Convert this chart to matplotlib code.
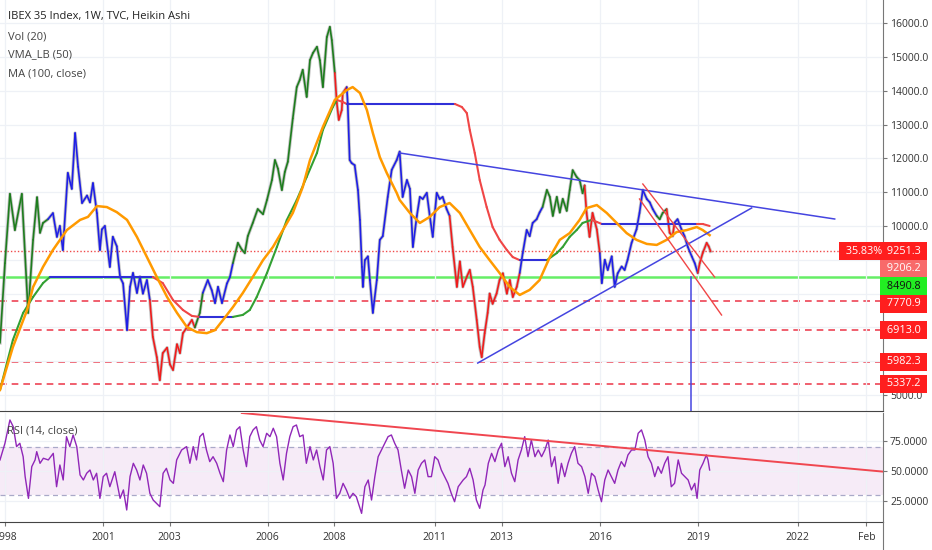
import numpy as np
import matplotlib.pyplot as plt
from matplotlib.collections import LineCollection
from matplotlib.transforms import blended_transform_factory
from matplotlib.lines import Line2D

plt.rcParams['font.family'] = ['Open Sans', 'DejaVu Sans']

# Heikin Ashi weekly close (decimal year, price, trend colour)
price_t = [1997.89, 1998.04, 1998.19, 1998.34, 1998.55, 1998.74, 1998.89, 1999.01, 1999.10, 1999.19,
           1999.34, 1999.49, 1999.61, 1999.70, 1999.79, 1999.94, 2000.06, 2000.16, 2000.25, 2000.37,
           2000.52, 2000.61, 2000.70, 2000.82, 2000.91, 2000.97, 2001.06, 2001.21, 2001.30, 2001.42,
           2001.52, 2001.61, 2001.73, 2001.82, 2001.91, 2002.03, 2002.12, 2002.21, 2002.33, 2002.42,
           2002.51, 2002.63, 2002.72, 2002.81, 2002.94, 2003.03, 2003.12, 2003.24, 2003.33, 2003.42,
           2003.54, 2003.69, 2003.78, 2003.93, 2004.02, 2004.17, 2004.29, 2004.39, 2004.48, 2004.60,
           2004.75, 2004.84, 2004.93, 2005.08, 2005.20, 2005.29, 2005.38, 2005.53, 2005.68, 2005.84,
           2005.96, 2006.11, 2006.20, 2006.29, 2006.41, 2006.50, 2006.59, 2006.74, 2006.86, 2006.95,
           2007.04, 2007.16, 2007.26, 2007.35, 2007.47, 2007.56, 2007.65, 2007.77, 2007.86, 2007.92,
           2008.01, 2008.07, 2008.13, 2008.22, 2008.25, 2008.37, 2008.40, 2008.46, 2008.52, 2008.61,
           2008.71, 2008.77, 2008.83, 2008.86, 2008.92, 2009.01, 2009.07, 2009.16, 2009.28, 2009.37,
           2009.46, 2009.61, 2009.73, 2009.88, 2009.97, 2010.06, 2010.19, 2010.28, 2010.37, 2010.49,
           2010.58, 2010.67, 2010.79, 2010.88, 2010.97, 2011.09, 2011.18, 2011.27, 2011.39, 2011.48,
           2011.57, 2011.70, 2011.79, 2011.88, 2012.00, 2012.09, 2012.18, 2012.30, 2012.39, 2012.45,
           2012.54, 2012.63, 2012.69, 2012.78, 2012.90, 2012.99, 2013.09, 2013.21, 2013.30, 2013.39,
           2013.51, 2013.60, 2013.69, 2013.81, 2013.90, 2013.99, 2014.11, 2014.20, 2014.29, 2014.42,
           2014.51, 2014.60, 2014.72, 2014.81, 2014.90, 2015.02, 2015.11, 2015.20, 2015.32, 2015.41,
           2015.50, 2015.56, 2015.62, 2015.71, 2015.80, 2015.93, 2016.02, 2016.08, 2016.17, 2016.26,
           2016.38, 2016.47, 2016.56, 2016.68, 2016.77, 2016.86, 2016.98, 2017.13, 2017.22, 2017.32,
           2017.44, 2017.53, 2017.62, 2017.74, 2017.83, 2017.92, 2018.04, 2018.13, 2018.22, 2018.28,
           2018.37, 2018.49, 2018.58, 2018.68, 2018.80, 2018.89, 2018.98, 2019.04, 2019.13, 2019.25,
           2019.31, 2019.37]
price_v = [6540, 8900, 10950, 9880, 10950, 7430, 9590, 10850, 9800, 10090,
           10200, 10380, 9680, 10000, 9290, 11570, 11100, 12750, 11750, 10680,
           10900, 10700, 11270, 10380, 9290, 9900, 10000, 8790, 9680, 9400,
           8490, 8300, 6920, 8200, 8610, 8020, 8500, 8000, 8400, 7810,
           6720, 6120, 5440, 6240, 6400, 5900, 5740, 6500, 6240, 6830,
           7000, 7220, 7000, 7430, 8020, 8400, 8100, 7720, 8200, 7720,
           8300, 8490, 8900, 9500, 9300, 9200, 9700, 10090, 10500, 10350,
           10770, 11360, 11950, 11700, 11065, 11600, 11900, 13180, 14110, 14320,
           14620, 13820, 14910, 15120, 15300, 14900, 14110, 15590, 15890, 15500,
           14530, 13640, 13140, 13430, 13930, 14110, 13640, 11950, 11860, 11800,
           11065, 10180, 8790, 8200, 8990, 9100, 8400, 7430, 8400, 9590,
           9700, 10860, 11660, 11950, 12200, 10860, 11360, 11100, 9380, 10300,
           10860, 10800, 10980, 10300, 9680, 10980, 10800, 10860, 10500, 10300,
           9380, 8200, 8950, 8200, 8500, 8700, 8200, 7220, 6420, 6120,
           6830, 7430, 8000, 7700, 8000, 8400, 8600, 8000, 8400, 7900,
           8200, 8610, 9200, 9880, 9700, 10090, 10200, 10400, 10560, 11065,
           10860, 10300, 10860, 10400, 10800, 10450, 11065, 11650, 11450, 11360,
           10970, 11200, 10385, 9680, 10385, 9900, 9200, 8310, 9000, 8700,
           9100, 8200, 8600, 8800, 8700, 9000, 9500, 9900, 10385, 11065,
           10800, 10700, 10500, 10300, 10200, 10385, 10500, 9800, 9700, 10100,
           10200, 9900, 9700, 9380, 9100, 8900, 8610, 8900, 9200, 9500,
           9400, 9250]
price_trend = ("GGGGGGGGGG" "GBBBBBBBBB" "BBBBBBBBBB" "BBBBBBBBBB" "RRRRRRRRRR"
               "RRRGGBBBBB" "BBBGGGGGGG" "GGGGGGGGGG" "GGGGGGGGGG" "GRRRRRBBBB"
               "BBBBBBBBBB" "BBBBBBBBBB" "BBBBBBBBBB" "RRRRRRRRRR" "RRRRRRRRRR"
               "RRBBBBBBBG" "GGGGGGGGGG" "GGRRRRRBBB" "BBBBBBBBBB" "BBBBGGGRRR"
               "BBBBBBBRRR" "RR")

# MA (100, close)
ma_t = [1997.89, 1998.28, 1998.71, 1998.89, 1999.19, 1999.49, 1999.91, 2000.31, 2000.55, 2000.82,
        2001.12, 2001.42, 2001.73, 2002.03, 2002.33, 2002.63, 2002.94, 2003.24, 2003.54, 2003.84,
        2004.14, 2004.39, 2004.63, 2004.93, 2005.23, 2005.53, 2005.84, 2006.14, 2006.44, 2006.74,
        2007.04, 2007.26, 2007.65, 2008.01, 2008.37, 2008.55, 2008.77, 2008.98, 2009.16, 2009.37,
        2009.58, 2009.88, 2009.97, 2010.28, 2010.58, 2010.88, 2011.18, 2011.48, 2011.79, 2012.09,
        2012.39, 2012.69, 2012.99, 2013.30, 2013.60, 2013.90, 2014.20, 2014.51, 2014.81, 2015.11,
        2015.41, 2015.62, 2015.93, 2016.23, 2016.53, 2016.83, 2017.13, 2017.44, 2017.74, 2018.04,
        2018.34, 2018.65, 2018.95, 2019.13, 2019.34]
ma_v = [5150, 6420, 7515, 8195, 8790, 9290, 9880, 10180, 10270, 10590,
        10560, 10410, 10180, 9675, 9083, 8490, 7900, 7430, 7010, 6860,
        6830, 6920, 7220, 7600, 8020, 8490, 8990, 9380, 9880, 10385,
        11150, 11950, 12930, 13730, 14020, 14110, 13935, 13430, 12750, 12040,
        11570, 10980, 10770, 10385, 10090, 10270, 10560, 10680, 10385, 9880,
        9380, 8990, 8610, 8195, 7960, 8110, 8400, 9080, 9590, 9790,
        10180, 10530, 10620, 10385, 10090, 9790, 9590, 9470, 9440, 9590,
        9820, 9880, 9970, 9880, 9730]

# VMA_LB (50)
vma_t = [1997.89, 1998.28, 1998.59, 1998.89, 1999.19, 1999.40, 2002.51, 2002.81, 2003.12, 2003.42,
         2003.69, 2003.93, 2004.93, 2005.23, 2005.44, 2005.65, 2005.96, 2006.26, 2006.56, 2006.86,
         2007.16, 2007.47, 2007.65, 2007.95, 2008.07, 2008.25, 2008.37, 2011.64, 2011.85, 2012.00,
         2012.09, 2012.24, 2012.39, 2012.60, 2012.78, 2012.99, 2013.21, 2013.39, 2013.60, 2014.42,
         2014.72, 2014.90, 2015.11, 2015.32, 2015.50, 2015.77, 2015.93, 2016.08, 2018.95, 2019.13,
         2019.34]
vma_v = [5150, 6630, 7430, 7900, 8310, 8490, 8490, 8310, 7810, 7515,
         7340, 7310, 7310, 7370, 7515, 7900, 8610, 9380, 10180, 10770,
         11450, 12160, 12840, 13520, 13730, 13670, 13610, 13610, 13520, 13340,
         12840, 12160, 11360, 10560, 9970, 9590, 9290, 9080, 8990, 8990,
         9200, 9380, 9680, 9880, 10090, 10180, 10120, 10060, 10060, 10060,
         10000]
vma_trend = ("GGGGGGBRRR" "RRBGGGGGGG" "GGGGGRRBRR" "RRRRRRRRRB" "GGGGGGRRBR" "R")

# horizontal levels
resist_levels = [7770.9, 6913.0, 5982.3, 5337.2]
support_level = 8490.8
last_close = 9251.3
ha_close = 9206.2
change_pct = '35.83%'

# drawn trend lines (start / end anchors)
tri_top_t = [2009.97, 2023.12]
tri_top_v = [12160, 10207]
tri_low_t = [2012.33, 2020.61]
tri_low_v = [5946, 10533]
chan_up_t = [2017.32, 2019.49]
chan_up_v = [11243, 8491]
chan_dn_t = [2017.22, 2019.70]
chan_dn_v = [10799, 7367]
drop_t = 2018.77
drop_top = 8490.8

# RSI (14, close)
rsi_t = [1997.89, 1998.04, 1998.19, 1998.29, 1998.39, 1998.49, 1998.59, 1998.65, 1998.75, 1998.85,
         1998.95, 1999.00, 1999.10, 1999.20, 1999.35, 1999.50, 1999.60, 1999.70, 1999.80, 1999.90,
         2000.00, 2000.10, 2000.21, 2000.31, 2000.41, 2000.51, 2000.61, 2000.71, 2000.81, 2000.91,
         2001.01, 2001.11, 2001.21, 2001.36, 2001.52, 2001.62, 2001.72, 2001.82, 2001.92, 2002.02,
         2002.12, 2002.22, 2002.32, 2002.42, 2002.52, 2002.62, 2002.72, 2002.82, 2002.92, 2003.03,
         2003.13, 2003.23, 2003.38, 2003.53, 2003.63, 2003.73, 2003.83, 2003.93, 2004.03, 2004.13,
         2004.23, 2004.33, 2004.44, 2004.54, 2004.64, 2004.74, 2004.84, 2004.94, 2005.04, 2005.14,
         2005.24, 2005.34, 2005.44, 2005.54, 2005.64, 2005.74, 2005.84, 2005.95, 2006.05, 2006.15,
         2006.25, 2006.35, 2006.45, 2006.55, 2006.65, 2006.75, 2006.85, 2006.95, 2007.05, 2007.15,
         2007.26, 2007.36, 2007.46, 2007.56, 2007.66, 2007.76, 2007.86, 2007.96, 2008.06, 2008.16,
         2008.26, 2008.36, 2008.46, 2008.56, 2008.66, 2008.82, 2008.92, 2009.02, 2009.12, 2009.22,
         2009.32, 2009.47, 2009.62, 2009.72, 2009.82, 2009.92, 2010.02, 2010.12, 2010.23, 2010.33,
         2010.43, 2010.53, 2010.63, 2010.73, 2010.83, 2010.93, 2011.03, 2011.13, 2011.23, 2011.33,
         2011.43, 2011.53, 2011.63, 2011.74, 2011.89, 2011.99, 2012.09, 2012.19, 2012.29, 2012.39,
         2012.49, 2012.55, 2012.65, 2012.75, 2012.85, 2012.95, 2013.05, 2013.15, 2013.25, 2013.35,
         2013.45, 2013.55, 2013.65, 2013.75, 2013.85, 2013.95, 2014.06, 2014.16, 2014.26, 2014.36,
         2014.46, 2014.56, 2014.66, 2014.76, 2014.86, 2014.96, 2015.06, 2015.16, 2015.26, 2015.36,
         2015.47, 2015.57, 2015.67, 2015.77, 2015.87, 2015.97, 2016.07, 2016.17, 2016.27, 2016.37,
         2016.47, 2016.57, 2016.67, 2016.77, 2016.87, 2016.98, 2017.08, 2017.18, 2017.28, 2017.38,
         2017.48, 2017.58, 2017.68, 2017.78, 2017.88, 2017.98, 2018.08, 2018.18, 2018.28, 2018.39,
         2018.49, 2018.59, 2018.69, 2018.79, 2018.89, 2018.96, 2019.04, 2019.14, 2019.24, 2019.29,
         2019.34]
rsi_v = [59.2, 73.1, 92.5, 86.9, 70.3, 73.1, 61.9, 45.3, 27.2, 53.6,
         59.2, 66.1, 56.4, 60.6, 59.2, 64.7, 36.9, 55.0, 42.5, 78.6,
         70.3, 80.0, 70.3, 46.7, 42.5, 48.1, 50.8, 42.5, 48.1, 27.2,
         45.3, 48.1, 36.9, 49.4, 27.2, 34.2, 17.5, 45.3, 56.4, 50.8,
         42.5, 55.0, 48.1, 31.4, 25.8, 23.1, 20.3, 48.1, 52.2, 42.5,
         39.7, 59.2, 67.5, 70.3, 56.4, 70.3, 59.2, 78.6, 81.4, 67.5,
         57.8, 61.9, 56.4, 48.1, 41.1, 67.5, 80.0, 70.3, 84.2, 86.9,
         67.5, 53.6, 78.6, 84.2, 86.9, 75.8, 70.3, 81.4, 78.6, 85.6,
         78.6, 56.4, 42.5, 64.7, 78.6, 86.9, 88.3, 78.6, 80.0, 56.4,
         70.3, 59.2, 67.5, 53.6, 42.5, 67.5, 70.3, 56.4, 27.2, 31.4,
         39.7, 34.2, 27.2, 31.4, 28.6, 14.7, 36.9, 42.5, 25.8, 45.3,
         61.9, 70.3, 78.6, 80.0, 73.1, 67.5, 50.8, 35.6, 50.8, 45.3,
         31.4, 50.8, 56.4, 59.2, 45.3, 45.3, 61.9, 59.2, 50.8, 45.3,
         39.7, 31.4, 24.4, 36.9, 42.5, 45.3, 52.2, 42.5, 25.8, 18.9,
         34.2, 38.3, 56.4, 64.7, 57.8, 67.5, 73.1, 53.6, 61.9, 48.1,
         41.1, 59.2, 67.5, 78.6, 61.9, 75.8, 61.9, 67.5, 61.9, 67.5,
         75.8, 53.6, 61.9, 39.7, 56.4, 45.3, 56.4, 64.7, 70.3, 56.4,
         53.6, 45.3, 31.4, 48.1, 45.3, 34.2, 24.4, 42.5, 50.8, 45.3,
         39.7, 50.8, 57.8, 53.6, 63.3, 67.5, 67.5, 81.4, 84.2, 75.8,
         61.9, 56.4, 45.3, 53.6, 48.1, 56.4, 61.9, 36.9, 39.7, 59.2,
         48.1, 45.3, 42.5, 34.2, 39.7, 27.2, 50.8, 56.4, 63.3, 59.2,
         50.8]
rsi_line_t = [2005.20, 2024.57]
rsi_line_v = [98.3, 49.5]

year_ticks = [1998.04, 2001.0, 2003.02, 2005.98, 2008.0, 2011.03, 2013.05, 2016.04, 2019.0, 2022.0, 2024.08]
year_labels = ['1998', '2001', '2003', '2006', '2008', '2011', '2013', '2016', '2019', '2022', 'Feb']
price_ticks = np.arange(5000, 16001, 1000)

bar_col = {'G': '#1e7d1e', 'B': '#1f1fe6', 'R': '#f01c1c'}
vma_col = {'G': '#33a033', 'B': '#3030d8', 'R': '#f04646'}

W, H = 932, 550
fig = plt.figure(figsize=(W / 100, H / 100), dpi=100)
ax = fig.add_axes([0, 1 - 411 / H, 883 / W, 411 / H])
ax2 = fig.add_axes([0, 1 - 522 / H, 883 / W, 109 / H], sharex=ax)

ymin, ymax = 4527, 16686
ax.set_ylim(ymin, ymax)
ax.set_xlim(1997.89, 2024.58)

def colored(a, t, v, trend, cmap, lw, z):
    pts = np.column_stack([t, v])
    segs = np.stack([pts[:-1], pts[1:]], axis=1)
    lc = LineCollection(segs, colors=[cmap[c] for c in trend[1:]], linewidths=lw, zorder=z,
                        capstyle='round', joinstyle='round')
    a.add_collection(lc)

# levels
ax.axhline(last_close, color='#f04a4a', lw=1, ls=(0, (1, 1.5)), zorder=1)
ax.axhline(support_level, color='#66ee66', lw=1.8, zorder=1)
for lv in resist_levels:
    ax.axhline(lv, color='#ee4455', lw=1.2, ls=(0, (4, 3)), zorder=1)

# price
ax.plot(price_t, price_v, color='#8a8a8a', lw=2.4, alpha=0.5, zorder=2)
colored(ax, price_t, price_v, price_trend, bar_col, 1.2, 3)
colored(ax, vma_t, vma_v, vma_trend, vma_col, 1.5, 4)
ax.plot(ma_t, ma_v, color='#ff9a00', lw=1.8, zorder=5)

# drawings
ax.plot(tri_top_t, tri_top_v, color='#4545e0', lw=1.1, zorder=6)
ax.plot(tri_low_t, tri_low_v, color='#4545e0', lw=1.1, zorder=6)
ax.plot([drop_t, drop_t], [drop_top, ymin], color='#4545e0', lw=1.1, zorder=6)
ax.plot(chan_up_t, chan_up_v, color='#f04646', lw=1.0, zorder=6)
ax.plot(chan_dn_t, chan_dn_v, color='#f04646', lw=1.0, zorder=6)

# labels between 6000 and 9000 sit under the price boxes
ax.set_yticks(price_ticks)
ax.set_yticklabels(['' if 6000 <= p <= 9000 else '%.1f' % p for p in price_ticks])
ax.yaxis.tick_right()
ax.tick_params(axis='y', length=3, color='#777', labelsize=7.5, labelcolor='#333', pad=2)
ax.tick_params(axis='x', length=0, labelbottom=False)
ax.set_xticks(year_ticks)
ax.grid(color='#eef1f6', lw=0.9, zorder=0)
for s in ['left', 'top']:
    ax.spines[s].set_visible(False)
ax.spines['right'].set_color('#777')
ax.spines['bottom'].set_color('#444')

# price labels on the scale, stacked so they do not overlap
trans = blended_transform_factory(ax.transAxes, ax.transData)
lab_p = [last_close, ha_close, support_level] + resist_levels
lab_fc = ['#ff1e1e', '#f86a6a', '#22ee22', '#ff1e1e', '#ff1e1e', '#ff1e1e', '#ff1e1e']
lab_tc = ['white', 'white', '#111', 'white', 'white', 'white', 'white']
prev = -100
for p, fc, tc in zip(lab_p, lab_fc, lab_tc):
    px = (ymax - p) / (ymax - ymin) * 411
    px = max(px, prev + 17.5)
    prev = px
    pd = ymax - px / 411 * (ymax - ymin)
    ax.text(1.001, pd, ' %.1f ' % p, transform=trans, ha='left', va='center', fontsize=7.8,
            color=tc, clip_on=False, zorder=10,
            bbox=dict(boxstyle='square,pad=0.33', fc=fc, ec='none'))
ax.text(0.999, last_close, ' ' + change_pct, transform=trans, ha='right', va='center', fontsize=7.8,
        color='white', zorder=10, bbox=dict(boxstyle='square,pad=0.33', fc='#ff1e1e', ec='none'))

# RSI panel
ax2.set_ylim(7.5, 98.3)
ax2.axhspan(30, 70, color='#9c27b0', alpha=0.09, lw=0, zorder=0)
ax2.axhline(70, color='#a9a9c8', lw=0.9, ls=(0, (4, 3)))
ax2.axhline(30, color='#a9a9c8', lw=0.9, ls=(0, (4, 3)))
ax2.plot(rsi_t, rsi_v, color='#9027b8', lw=1.0, zorder=3)
ax2.plot(rsi_line_t, rsi_line_v, color='#f04650', lw=1.4, zorder=4)
ax2.set_yticks([25, 50, 75])
ax2.set_yticklabels(['25.0000', '50.0000', '75.0000'])
ax2.yaxis.tick_right()
ax2.tick_params(axis='y', length=3, color='#777', labelsize=7.5, labelcolor='#333', pad=2)
ax2.set_xticks(year_ticks)
ax2.set_xticklabels(year_labels)
ax2.tick_params(axis='x', length=3, color='#777', labelsize=7.5, labelcolor='#333', pad=4)
ax2.grid(color='#eef1f6', lw=0.9, zorder=0)
for s in ['left', 'top']:
    ax2.spines[s].set_visible(False)
ax2.spines['right'].set_color('#777')
ax2.spines['bottom'].set_color('#444')
fig.add_artist(Line2D([883 / W, 883 / W], [0, 1 - 522 / H], color='#777', lw=0.8))

# header texts
fig.text(8 / W, 1 - 17 / H, 'IBEX 35 Index, 1W, TVC, Heikin Ashi', fontsize=8, color='#222', va='center')
fig.text(8 / W, 1 - 37 / H, 'Vol (20)', fontsize=8, color='#444', va='center')
fig.text(8 / W, 1 - 55 / H, 'VMA_LB (50)', fontsize=8, color='#444', va='center')
fig.text(8 / W, 1 - 74 / H, 'MA (100, close)', fontsize=8, color='#444', va='center')
fig.text(7 / W, 1 - 431 / H, 'RSI (14, close)', fontsize=8, color='#444', va='center')

assert len(price_t) == len(price_v) == len(price_trend)
assert len(vma_t) == len(vma_v) == len(vma_trend)
assert len(rsi_t) == len(rsi_v)

fig.savefig('out.png', dpi=100)
